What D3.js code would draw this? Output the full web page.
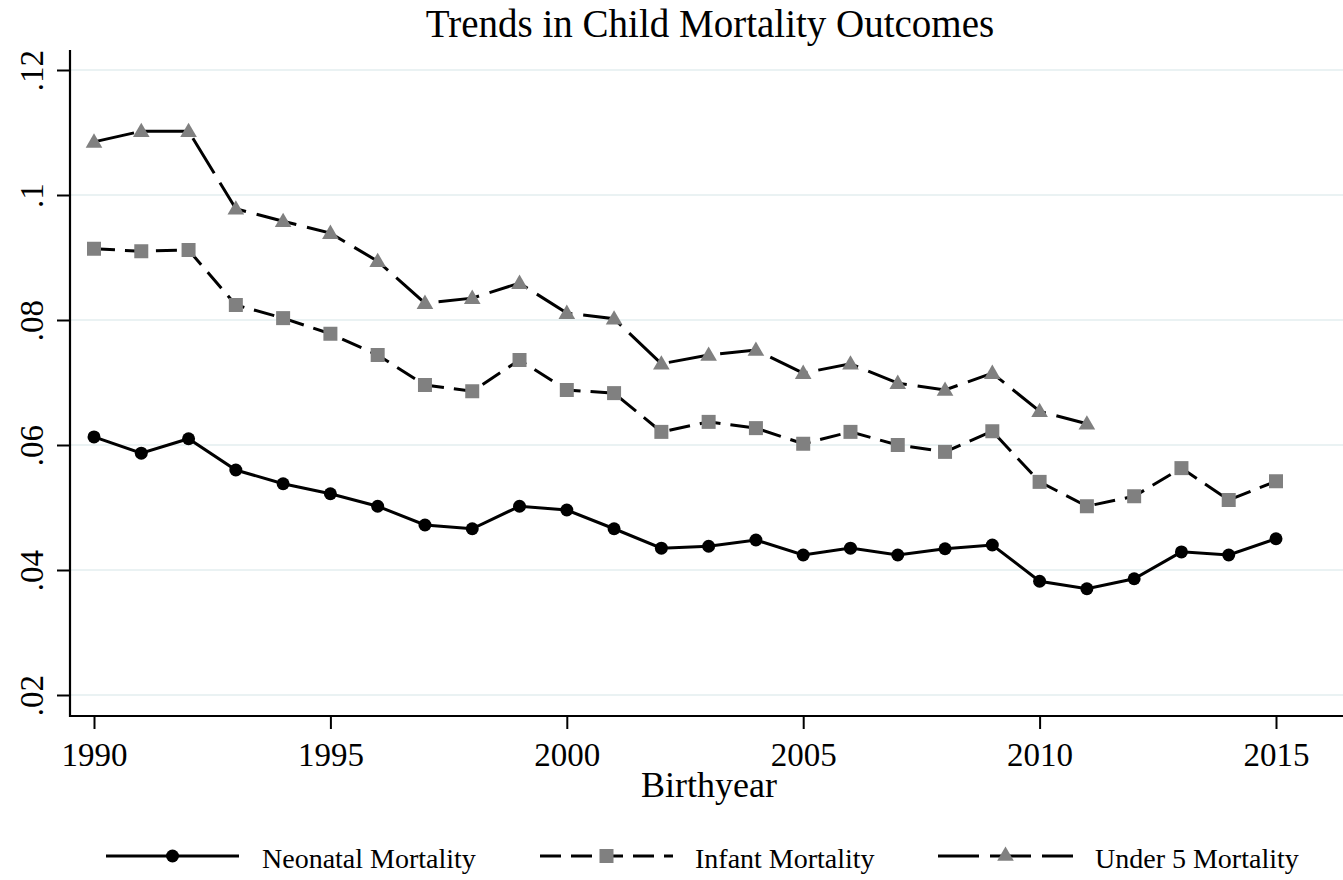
<!DOCTYPE html>
<html><head><meta charset="utf-8">
<script src="https://cdn.jsdelivr.net/npm/d3@7"></script>
<style>html,body{margin:0;padding:0;background:#fff;}svg{display:block;font-family:"Liberation Serif","Times New Roman",serif;}</style>
</head><body>
<svg id="c" width="1343" height="880"></svg>
<script>
const years = d3.range(1990, 2016);
const neonatal = [0.0613,0.0587,0.0610,0.0560,0.0538,0.0522,0.0502,0.0472,0.0466,0.0502,0.0496,0.0466,0.0435,0.0438,0.0448,0.0424,0.0435,0.0424,0.0434,0.0440,0.0382,0.0370,0.0386,0.0429,0.0424,0.0450];
const infant = [0.0914,0.0910,0.0912,0.0824,0.0803,0.0778,0.0744,0.0696,0.0686,0.0736,0.0688,0.0683,0.0621,0.0637,0.0627,0.0602,0.0621,0.0600,0.0589,0.0622,0.0541,0.0502,0.0518,0.0563,0.0512,0.0542];
const under5 = [0.1085,0.1102,0.1102,0.0978,0.0958,0.0939,0.0894,0.0827,0.0835,0.0859,0.0811,0.0802,0.0730,0.0744,0.0752,0.0715,0.0730,0.0699,0.0688,0.0715,0.0654,0.0634];
const xTicks = [1990,1995,2000,2005,2010,2015];
const yTicks = [0.02,0.04,0.06,0.08,0.10,0.12];
const yTickLabels = [".02",".04",".06",".08",".1",".12"];
const seriesNames = ["Neonatal Mortality","Infant Mortality","Under 5 Mortality"];

(function(){
const svg = d3.select("#c");
const x = d3.scaleLinear().domain([1990, 2015]).range([94, 1276]);
const y = d3.scaleLinear().domain([0.02, 0.12]).range([695, 70]);
const pLeft = 70, pRight = 1343, pTop = 50, pBottom = 716;

// gridlines
svg.append("g").selectAll("line").data(yTicks).join("line")
  .attr("x1", pLeft).attr("x2", pRight)
  .attr("y1", d => y(d)).attr("y2", d => y(d))
  .attr("stroke", "#eaf2f3").attr("stroke-width", 2);

// y axis
const yAxis = d3.axisLeft(y).tickValues(yTicks).tickSize(13).tickFormat((d,i) => yTickLabels[i]);
const gy = svg.append("g").attr("transform", `translate(${pLeft},0)`).call(yAxis);
gy.select(".domain").remove();
gy.selectAll(".tick line").attr("stroke", "#000").attr("stroke-width", 2);
gy.selectAll(".tick text").attr("font-size", 33).attr("font-family", "Liberation Serif").attr("fill", "#000")
  .attr("transform", "rotate(-90)").attr("x", 0).attr("y", -27).attr("dy", 0).attr("text-anchor", "middle");
svg.append("line").attr("x1", pLeft).attr("x2", pLeft).attr("y1", pTop).attr("y2", pBottom + 1)
  .attr("stroke", "#000").attr("stroke-width", 2.2);

// x axis
const xAxis = d3.axisBottom(x).tickValues(xTicks).tickSize(13).tickFormat(d3.format("d"));
const gx = svg.append("g").attr("transform", `translate(0,${pBottom})`).call(xAxis);
gx.select(".domain").remove();
gx.selectAll(".tick line").attr("stroke", "#000").attr("stroke-width", 2);
gx.selectAll(".tick text").attr("font-size", 33).attr("font-family", "Liberation Serif").attr("fill", "#000")
  .attr("y", 50).attr("dy", 0);
svg.append("line").attr("x1", pLeft - 1).attr("x2", pRight).attr("y1", pBottom).attr("y2", pBottom)
  .attr("stroke", "#000").attr("stroke-width", 2.2);

// title & axis title
svg.append("text").attr("x", 710).attr("y", 37).attr("text-anchor", "middle")
  .attr("font-size", 39).text("Trends in Child Mortality Outcomes");
svg.append("text").attr("x", 709).attr("y", 797).attr("text-anchor", "middle")
  .attr("font-size", 36).text("Birthyear");

const line = d3.line().x(d => x(d[0])).y(d => y(d[1]));
const grey = "#808080";
const sqSize = 14;
const tri = d3.symbol().type(d3.symbolTriangle).size(120);
const dashI = "21,10", dashU = "41,11";

function drawSeries(vals, dash) {
  const pts = vals.map((v, i) => [years[i], v]);
  svg.append("path").datum(pts).attr("d", line).attr("fill", "none")
    .attr("stroke", "#000").attr("stroke-width", 3).attr("stroke-dasharray", dash);
  return pts;
}
const pN = drawSeries(neonatal, null);
const pI = drawSeries(infant, dashI);
const pU = drawSeries(under5, dashU);

svg.append("g").selectAll("circle").data(pN).join("circle")
  .attr("cx", d => x(d[0])).attr("cy", d => y(d[1])).attr("r", 6.5).attr("fill", "#000");
svg.append("g").selectAll("rect").data(pI).join("rect")
  .attr("x", d => x(d[0]) - sqSize/2).attr("y", d => y(d[1]) - sqSize/2)
  .attr("width", sqSize).attr("height", sqSize).attr("fill", grey);
svg.append("g").selectAll("path").data(pU).join("path")
  .attr("transform", d => `translate(${x(d[0])},${y(d[1]) + 1})`).attr("d", tri).attr("fill", grey);

// legend
const legY = 856;
const legItems = [
  {x0: 106, x1: 239, tx: 262, dash: null, m: "circle"},
  {x0: 540, x1: 673, tx: 695, dash: dashI, m: "square"},
  {x0: 938, x1: 1073, tx: 1095, dash: dashU, m: "triangle"}
];
legItems.forEach((it, i) => {
  const g = svg.append("g");
  g.append("line").attr("x1", it.x0).attr("x2", it.x1).attr("y1", legY).attr("y2", legY)
    .attr("stroke", "#000").attr("stroke-width", 3).attr("stroke-dasharray", it.dash);
  const cx = (it.x0 + it.x1) / 2;
  if (it.m === "circle") g.append("circle").attr("cx", cx).attr("cy", legY).attr("r", 6.5).attr("fill", "#000");
  if (it.m === "square") g.append("rect").attr("x", cx - sqSize/2).attr("y", legY - sqSize/2).attr("width", sqSize).attr("height", sqSize).attr("fill", grey);
  if (it.m === "triangle") g.append("path").attr("transform", `translate(${cx},${legY})`).attr("d", tri).attr("fill", grey);
  g.append("text").attr("x", it.tx).attr("y", 868).attr("font-size", 28).text(seriesNames[i]);
});
})();
</script>
</body></html>
